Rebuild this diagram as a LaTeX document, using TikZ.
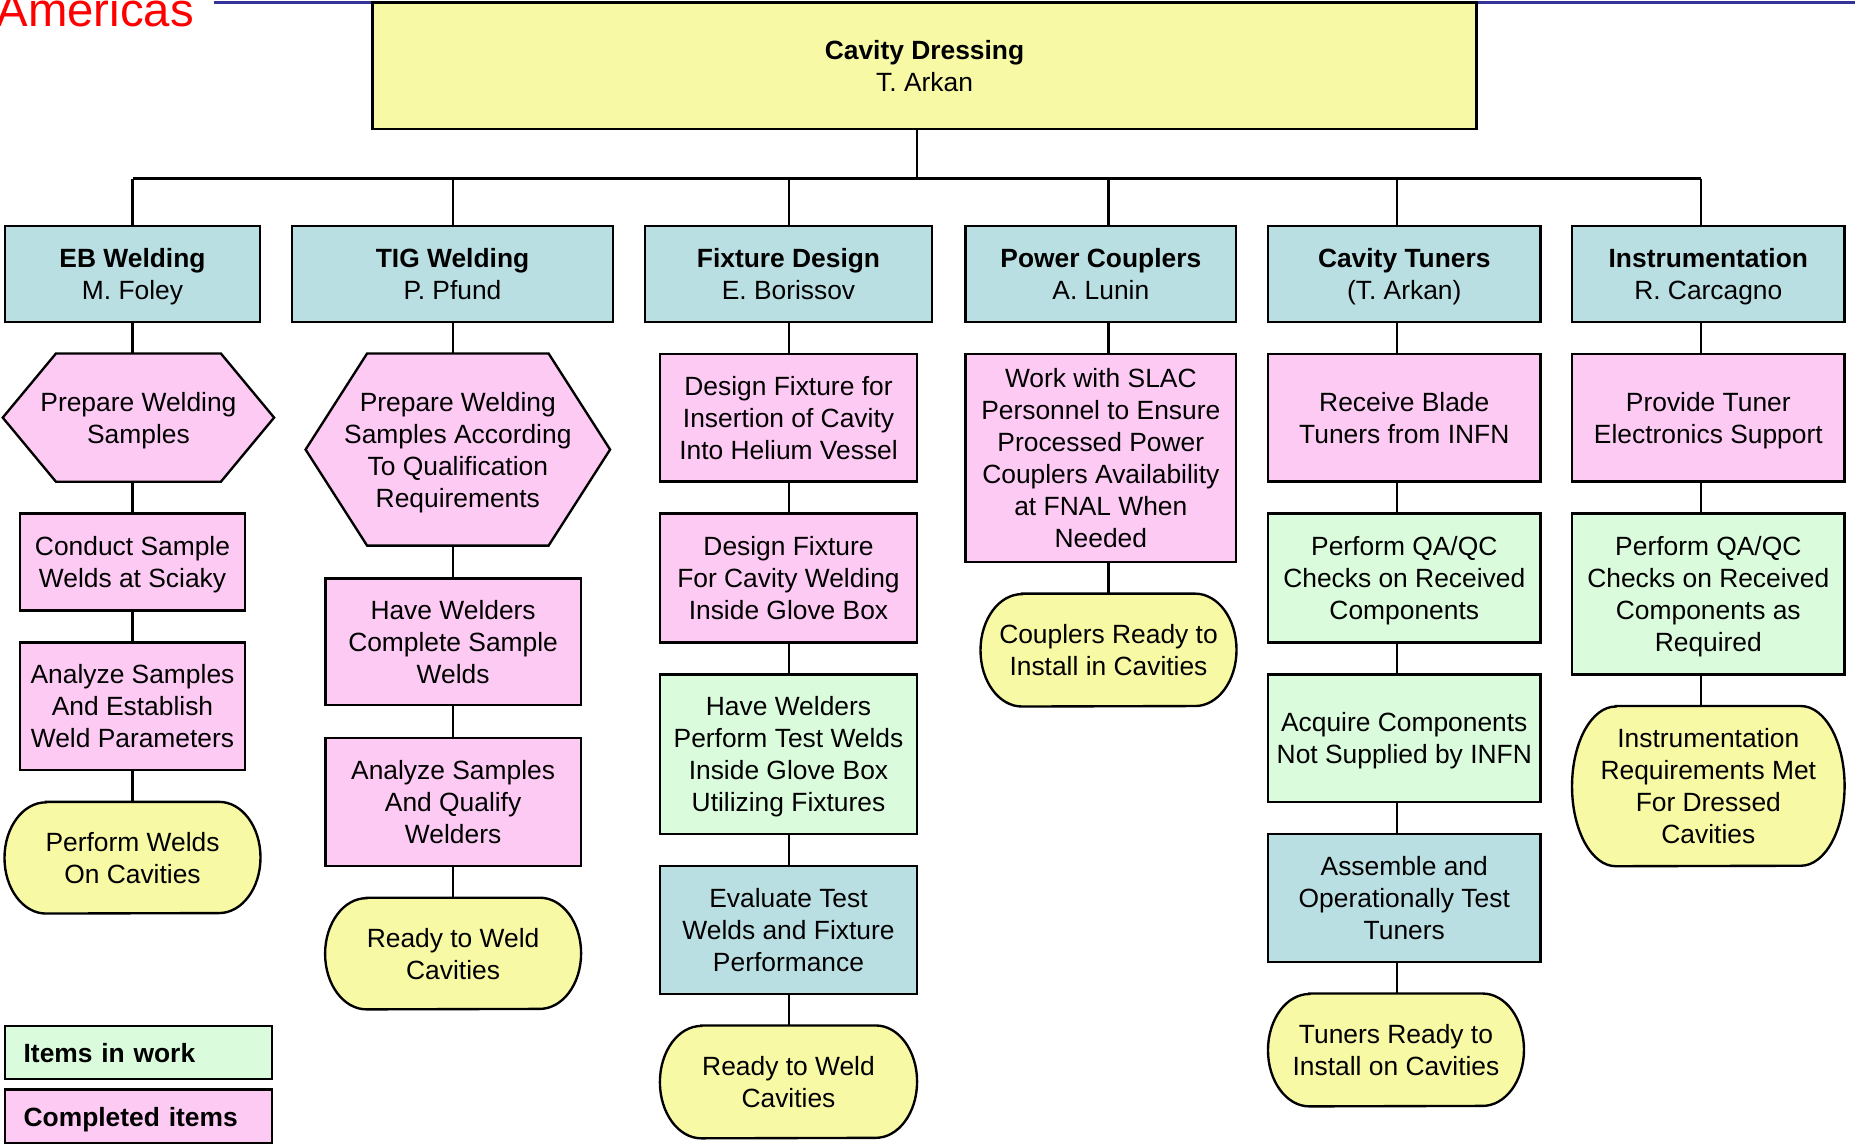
\documentclass[tikz,border=0pt]{standalone}
\usepackage{fontspec}
\setmainfont{Liberation Sans}
\usetikzlibrary{calc}
\definecolor{yel}{HTML}{F7F9A5}
\definecolor{blu}{HTML}{BADFE3}
\definecolor{pnk}{HTML}{FDCAF4}
\definecolor{grn}{HTML}{DAFCDC}
\definecolor{navy}{HTML}{333399}
\definecolor{amred}{HTML}{FF0000}
\newcommand\txtfont{\fontsize{22.3}{27}\selectfont}
\pgfdeclarelayer{background}
\pgfsetlayers{background,main}
\tikzset{
  lw/.style={line width=2pt},
  base/.style={inner sep=0pt, align=center, font=\txtfont, text depth=0pt},
  box/.style={base, draw, lw, rectangle},
  conn/.style={lw},
  legend/.style={draw, lw, rectangle, align=left, inner sep=0pt, inner xsep=16pt, text width=194pt,
    minimum height=45pt, font=\txtfont\bfseries,
    execute at begin node={\rule{0pt}{25.7pt}},
    execute at end node={\rule[-8.1pt]{0pt}{0pt}}},
}
% terminator outline drawn behind a named node: name, x radius, y radius
\newcommand\termdraw[3]{%
  \draw[lw, fill=yel] ([xshift=#2pt]#1.north west) -- ([xshift=-#2pt]#1.north east)
    arc[start angle=90, end angle=-90, x radius=#2pt, y radius=#3pt]
    -- ([xshift=#2pt]#1.south west)
    arc[start angle=270, end angle=90, x radius=#2pt, y radius=#3pt] -- cycle;}
% hexagon outline drawn behind a named node: name, inset
\newcommand\hexdraw[2]{%
  \draw[lw, fill=pnk] (#1.west) -- ([xshift=#2pt]#1.north west) -- ([xshift=-#2pt]#1.north east)
    -- (#1.east) -- ([xshift=-#2pt]#1.south east) -- ([xshift=#2pt]#1.south west) -- cycle;}
\begin{document}
\begin{tikzpicture}[x=1pt, y=1pt]
\useasboundingbox (0,0) rectangle (1568,-968);
\clip (0,0) rectangle (1568,-968);

% title text and rule
\node[font=\fontsize{40}{41}\selectfont, text=amred, anchor=base west, inner sep=0pt] (am) at (-3,-22) {Americas};
\coordinate (bl) at (181,-2);
\coordinate (br) at (1568,-2);
\draw[navy, line width=2pt] (bl) -- (br);

% top box
\node[box, fill=yel, minimum width=933pt, minimum height=107pt] (top) at (781.5,-55.5) {\textbf{Cavity Dressing}\\T. Arkan};

% bar coordinates
\coordinate (b0) at (775,-151);
\coordinate (b1) at (112,-151);
\coordinate (b2) at (383,-151);
\coordinate (b3) at (667,-151);
\coordinate (b4) at (937,-151);
\coordinate (b5) at (1181,-151);
\coordinate (b6) at (1438,-151);

% level 1
\node[box, fill=blu, minimum width=216pt, minimum height=81pt] (eb) at (112,-231.5) {\textbf{EB Welding}\\M. Foley};
\node[box, fill=blu, minimum width=271pt, minimum height=81pt] (tig) at (382.5,-231.5) {\textbf{TIG Welding}\\P. Pfund};
\node[box, fill=blu, minimum width=243pt, minimum height=81pt] (fd) at (666.5,-231.5) {\textbf{Fixture Design}\\E. Borissov};
\node[box, fill=blu, minimum width=229pt, minimum height=81pt] (pc) at (930.5,-231.5) {\textbf{Power Couplers}\\A. Lunin};
\node[box, fill=blu, minimum width=230pt, minimum height=81pt] (ct) at (1187,-231.5) {\textbf{Cavity Tuners}\\(T. Arkan)};
\node[box, fill=blu, minimum width=230pt, minimum height=81pt] (ins) at (1444,-231.5) {\textbf{Instrumentation}\\R. Carcagno};

% column 1
\node[base, minimum width=229pt, minimum height=108pt] (h1) at (117,-353) {Prepare Welding\\Samples};
\node[box, fill=pnk, minimum width=190pt, minimum height=82pt] (c1a) at (112,-475) {Conduct Sample\\Welds at Sciaky};
\node[box, fill=pnk, minimum width=190pt, minimum height=108pt] (c1b) at (112,-597) {Analyze Samples\\And Establish\\Weld Parameters};
\node[base, minimum width=216pt, minimum height=94pt] (t1) at (112,-725) {Perform Welds\\On Cavities};

% column 2
\node[base, minimum width=257pt, minimum height=162pt] (h2) at (387,-380) {Prepare Welding\\Samples According\\To Qualification\\Requirements};
\node[box, fill=pnk, minimum width=216pt, minimum height=107pt] (c2a) at (383,-542.5) {Have Welders\\Complete Sample\\Welds};
\node[box, fill=pnk, minimum width=216pt, minimum height=108pt] (c2b) at (383,-678) {Analyze Samples\\And Qualify\\Welders};
\node[base, minimum width=216pt, minimum height=94pt] (t2) at (383,-806) {Ready to Weld\\Cavities};

% column 3
\node[box, fill=pnk, minimum width=217pt, minimum height=108pt] (c3a) at (666.5,-353) {Design Fixture for\\Insertion of Cavity\\Into Helium Vessel};
\node[box, fill=pnk, minimum width=217pt, minimum height=109pt] (c3b) at (666.5,-488.5) {Design Fixture\\For Cavity Welding\\Inside Glove Box};
\node[box, fill=grn, minimum width=217pt, minimum height=135pt] (c3c) at (666.5,-637.5) {Have Welders\\Perform Test Welds\\Inside Glove Box\\Utilizing Fixtures};
\node[box, fill=blu, minimum width=217pt, minimum height=108pt] (c3d) at (666.5,-786) {Evaluate Test\\Welds and Fixture\\Performance};
\node[base, minimum width=217pt, minimum height=95pt] (t3) at (666.5,-914.5) {Ready to Weld\\Cavities};

% column 4
\node[box, fill=pnk, minimum width=229pt, minimum height=176pt] (c4a) at (930.5,-387) {Work with SLAC\\Personnel to Ensure\\Processed Power\\Couplers Availability\\at FNAL When\\Needed};
\node[base, minimum width=216pt, minimum height=95pt] (t4) at (937,-549.5) {Couplers Ready to\\Install in Cavities};

% column 5
\node[box, fill=pnk, minimum width=230pt, minimum height=108pt] (c5a) at (1187,-353) {Receive Blade\\Tuners from INFN};
\node[box, fill=grn, minimum width=230pt, minimum height=109pt] (c5b) at (1187,-488.5) {Perform QA/QC\\Checks on Received\\Components};
\node[box, fill=grn, minimum width=230pt, minimum height=108pt] (c5c) at (1187,-624) {Acquire Components\\Not Supplied by INFN};
\node[box, fill=blu, minimum width=230pt, minimum height=108pt] (c5d) at (1187,-759) {Assemble and\\Operationally Test\\Tuners};
\node[base, minimum width=216pt, minimum height=95pt] (t5) at (1180,-887.5) {Tuners Ready to\\Install on Cavities};

% column 6
\node[box, fill=pnk, minimum width=230pt, minimum height=108pt] (c6a) at (1444,-353) {Provide Tuner\\Electronics Support};
\node[box, fill=grn, minimum width=230pt, minimum height=136pt] (c6b) at (1444,-502) {Perform QA/QC\\Checks on Received\\Components as\\Required};
\node[base, minimum width=230pt, minimum height=135pt] (t6) at (1444,-664.5) {Instrumentation\\Requirements Met\\For Dressed\\Cavities};

% legend
\node[legend, fill=grn] (lg1) at (117,-889.5) {Items in work};
\node[legend, fill=pnk] (lg2) at (117,-943.5) {Completed items};

% shapes behind text
\begin{pgfonlayer}{background}
  \hexdraw{h1}{45}
  \hexdraw{h2}{52}
  \termdraw{t1}{35}{47}
  \termdraw{t2}{35}{47}
  \termdraw{t3}{35}{47.5}
  \termdraw{t4}{35}{47.5}
  \termdraw{t5}{35}{47.5}
  \termdraw{t6}{37}{67.5}
\end{pgfonlayer}

% connectors
\draw[conn] (top.south -| b0) -- (b0);
\draw[conn] (b1) -- (b6);
\draw[conn] (b1) -- (eb.north -| b1);
\draw[conn] (b2) -- (tig.north -| b2);
\draw[conn] (b3) -- (fd.north -| b3);
\draw[conn] (b4) -- (pc.north -| b4);
\draw[conn] (b5) -- (ct.north -| b5);
\draw[conn] (b6) -- (ins.north -| b6);

\draw[conn] (eb.south -| b1) -- (h1.north -| b1);
\draw[conn] (h1.south -| b1) -- (c1a.north -| b1);
\draw[conn] (c1a.south -| b1) -- (c1b.north -| b1);
\draw[conn] (c1b.south -| b1) -- (t1.north -| b1);

\draw[conn] (tig.south -| b2) -- (h2.north -| b2);
\draw[conn] (h2.south -| b2) -- (c2a.north -| b2);
\draw[conn] (c2a.south -| b2) -- (c2b.north -| b2);
\draw[conn] (c2b.south -| b2) -- (t2.north -| b2);

\draw[conn] (fd.south -| b3) -- (c3a.north -| b3);
\draw[conn] (c3a.south -| b3) -- (c3b.north -| b3);
\draw[conn] (c3b.south -| b3) -- (c3c.north -| b3);
\draw[conn] (c3c.south -| b3) -- (c3d.north -| b3);
\draw[conn] (c3d.south -| b3) -- (t3.north -| b3);

\draw[conn] (pc.south -| b4) -- (c4a.north -| b4);
\draw[conn] (c4a.south -| b4) -- (t4.north -| b4);

\draw[conn] (ct.south -| b5) -- (c5a.north -| b5);
\draw[conn] (c5a.south -| b5) -- (c5b.north -| b5);
\draw[conn] (c5b.south -| b5) -- (c5c.north -| b5);
\draw[conn] (c5c.south -| b5) -- (c5d.north -| b5);
\draw[conn] (c5d.south -| b5) -- (t5.north -| b5);

\draw[conn] (ins.south -| b6) -- (c6a.north -| b6);
\draw[conn] (c6a.south -| b6) -- (c6b.north -| b6);
\draw[conn] (c6b.south -| b6) -- (t6.north -| b6);
\end{tikzpicture}
\end{document}
